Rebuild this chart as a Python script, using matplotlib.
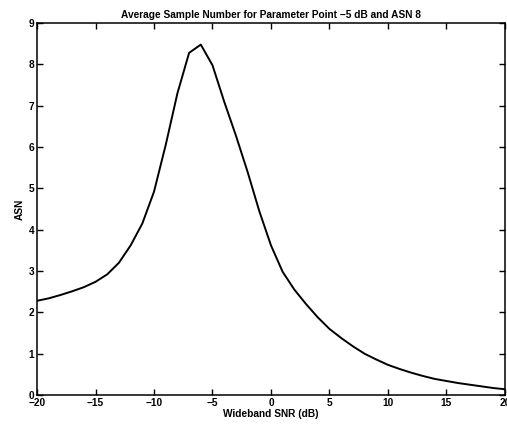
import matplotlib
matplotlib.use('Agg')
import matplotlib.pyplot as plt
from matplotlib.ticker import MultipleLocator

plt.rcParams['font.family'] = ['Liberation Sans', 'DejaVu Sans']
plt.rcParams['font.weight'] = 'bold'

# Wideband SNR (dB) and average sample number
snr_db = list(range(-20, 21))
asn = [2.28, 2.34, 2.42, 2.51, 2.61, 2.74, 2.92, 3.20, 3.62, 4.15,
       4.92, 6.05, 7.30, 8.28, 8.48, 7.98, 7.10, 6.28, 5.40, 4.45,
       3.62, 2.98, 2.55, 2.20, 1.88, 1.60, 1.38, 1.18, 1.00, 0.86,
       0.73, 0.63, 0.54, 0.46, 0.39, 0.34, 0.29, 0.25, 0.21, 0.17,
       0.14]

fig = plt.figure(figsize=(5.07, 4.28), dpi=100)
ax = fig.add_axes([0.073, 0.077, 0.923, 0.869])
ax.plot(snr_db, asn, color='black', linewidth=1.4)

ax.set_xlim(-20, 20)
ax.set_ylim(0, 9)
ax.xaxis.set_major_locator(MultipleLocator(5))
ax.yaxis.set_major_locator(MultipleLocator(1))
ax.tick_params(direction='in', top=True, right=True, length=4,
               labelsize=7.3, pad=2, width=1)
for s in ax.spines.values():
    s.set_linewidth(1.1)

ax.set_title('Average Sample Number for Parameter Point \u22125 dB and ASN 8',
             fontsize=7.3, fontweight='bold', pad=4)
ax.set_xlabel('Wideband SNR (dB)', fontsize=7.3, fontweight='bold', labelpad=1)
ax.set_ylabel('ASN', fontsize=7.3, fontweight='bold', labelpad=3)

fig.savefig('out.png', dpi=100)
